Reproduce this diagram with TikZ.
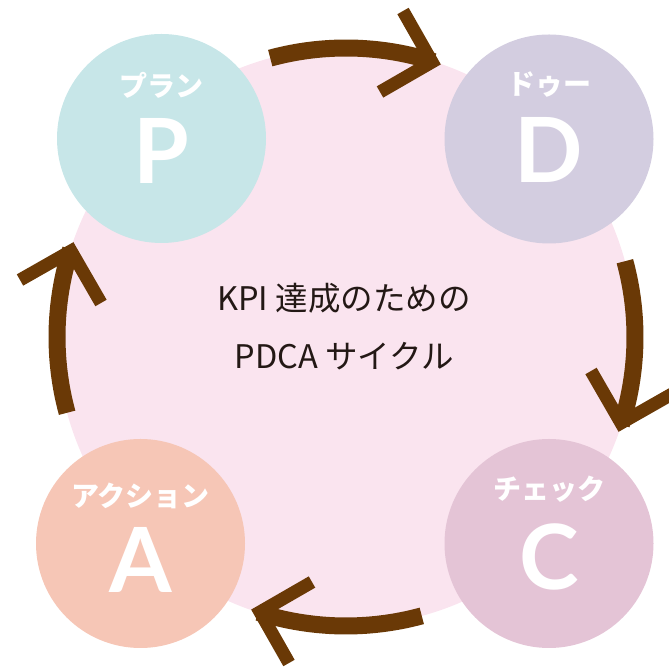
\documentclass[tikz,border=0pt]{standalone}
\usepackage{fontspec}
\setmainfont{Lato}
\newfontfamily\jp{Noto Sans CJK JP}
\definecolor{pinkbg}{HTML}{FAE4EF}
\definecolor{cP}{HTML}{C7E6E8}
\definecolor{cD}{HTML}{D3CDE0}
\definecolor{cA}{HTML}{F6C6B6}
\definecolor{cC}{HTML}{E4C4D6}
\definecolor{brown}{HTML}{6A3906}
\definecolor{ink}{HTML}{231815}
\tikzset{
  phase/.style={circle, minimum size=209pt, inner sep=0pt, draw=none},
  kana/.style={anchor=base, text=white, font=\jp\bfseries\fontsize{28pt}{28pt}\selectfont, inner sep=0pt},
  letter/.style={anchor=base, text=white, font=\bfseries\fontsize{90pt}{90pt}\selectfont, inner sep=0pt},
  title/.style={anchor=base, text=ink, font=\jp\fontsize{32.5pt}{32.5pt}\selectfont, inner sep=0pt},
  arcline/.style={draw=brown, line width=17pt, line cap=butt},
  head/.style={draw=brown, line width=13pt, line cap=butt, line join=miter, miter limit=10}
}
\begin{document}
\begin{tikzpicture}[x=1pt,y=1pt]
\useasboundingbox (0,0) rectangle (669,668);
\clip (0,0) rectangle (669,668);
\coordinate (O) at (346,331);
\fill[pinkbg] (O) circle (289);
% phase circles
\node[phase, fill=cP] (P) at (161.5,529.5) {};
\node[phase, fill=cD] (D) at (549,529) {};
\node[phase, fill=cA] (A) at (140.5,124.5) {};
\node[phase, fill=cC] (C) at (549,124.5) {};
% labels
\node[kana] (Pk) at (161.5,571) {プラン};
\node[letter] (Pl) at (161.5,484) {P};
\node[kana] (Dk) at (549,573) {ドゥー};
\node[letter] (Dl) at (549,485) {D};
\node[kana] (Ak) at (140.5,161.5) {アクション};
\node[letter] (Al) at (140.5,75) {A};
\node[kana] (Ck) at (549,168.5) {チェック};
\node[letter] (Cl) at (549,78) {C};
% centre title
\node[title] (t1) at (344,357) {KPI 達成のための};
\node[title] (t2) at (344,299) {PDCA サイクル};
% cycle arrows
\foreach \r in {0,-90,-180,-270}{
  \begin{scope}[shift={(346,331)}, rotate=\r]
    \coordinate (s) at (105.2:289);
    \coordinate (e1) at (57,326);
    \coordinate (v) at (86,275);
    \coordinate (e2) at (34,245);
    \draw[arcline] (s) arc[start angle=105.2, end angle=72.3, radius=289];
    \draw[head] (e1) -- (v) -- (e2);
  \end{scope}
}
\end{tikzpicture}
\end{document}
